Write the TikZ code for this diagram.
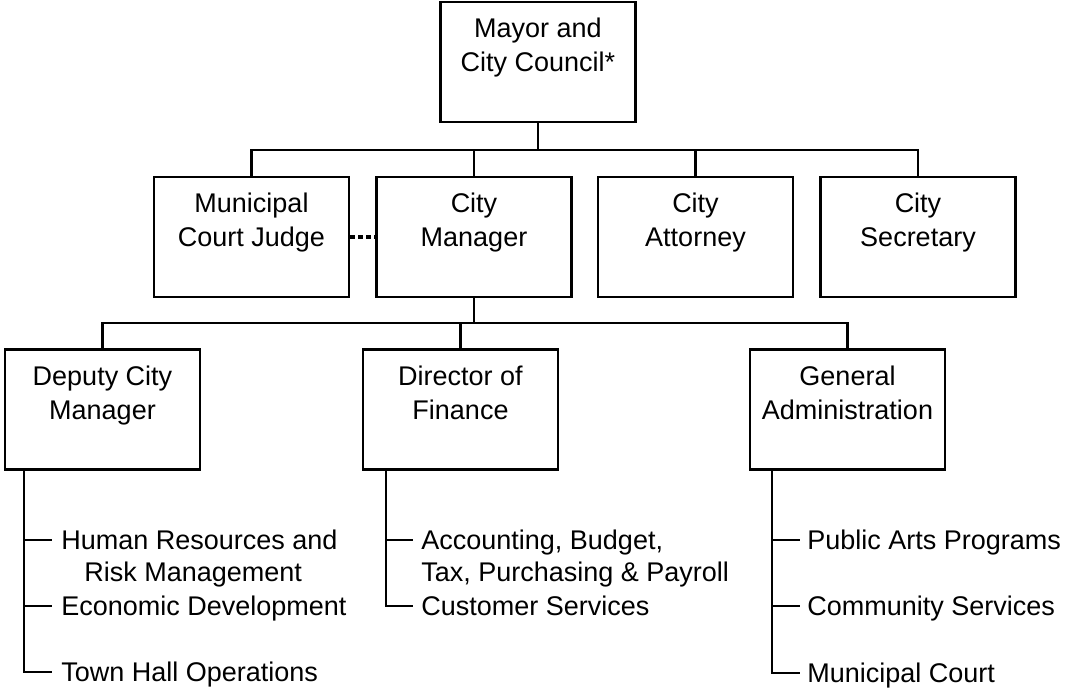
\documentclass[tikz,border=0pt]{standalone}
\usepackage{fontspec}
\setmainfont{Liberation Sans}
\usetikzlibrary{positioning,calc}

\begin{document}
\begin{tikzpicture}[
    x=0.5pt, y=-0.5pt,
    box/.style={draw, line width=1.1pt, minimum width=97.5pt, minimum height=60pt, inner sep=0pt},
    boxtext/.style={anchor=base, align=center, inner sep=0pt, font=\fontsize{13.5}{17}\selectfont},
    item/.style={anchor=base west, align=left, inner sep=0pt, font=\fontsize{13.5}{16}\selectfont},
    link/.style={draw, line width=1.1pt},
    dotlink/.style={draw, line width=2pt, dash pattern=on 2.6pt off 1.4pt}
]
\useasboundingbox (0,0) rectangle (1067,688);
% top
\node[box] (mayor) at (538,62) {};
\node[boxtext] (mayor-t) at ($(mayor.north)+(0,71)$) {Mayor and\\City Council*};
% second row
\node[box] (judge) at (251.5,237) {};
\node[box] (manager) at (474,237) {};
\node[box] (attorney) at (695.5,237) {};
\node[box] (secretary) at (918,237) {};
\node[boxtext] (judge-t) at ($(judge.north)+(0,71)$) {Municipal\\Court Judge};
\node[boxtext] (manager-t) at ($(manager.north)+(0,71)$) {City\\Manager};
\node[boxtext] (attorney-t) at ($(attorney.north)+(0,71)$) {City\\Attorney};
\node[boxtext] (secretary-t) at ($(secretary.north)+(0,71)$) {City\\Secretary};
% third row
\node[box] (deputy) at (102.5,409.5) {};
\node[box] (finance) at (460.5,409.5) {};
\node[box] (admin) at (847.5,409.5) {};
\node[boxtext] (deputy-t) at ($(deputy.north)+(0,71)$) {Deputy City\\Manager};
\node[boxtext] (finance-t) at ($(finance.north)+(0,71)$) {Director of\\Finance};
\node[boxtext] (admin-t) at ($(admin.north)+(0,71)$) {General\\Administration};
% connectors
\coordinate (bus1) at (538,150);
\coordinate (bus2) at (474,323);
\draw[link] (mayor.south) -- (bus1);
\draw[link] (judge.north) |- (bus1) -| (secretary.north);
\draw[link] (manager.north) -- (manager.north |- bus1);
\draw[link] (attorney.north) -- (attorney.north |- bus1);
\draw[dotlink] (judge.east) -- (manager.west);
\draw[link] (manager.south) -- (bus2);
\draw[link] (deputy.north) |- (bus2) -| (admin.north);
\draw[link] (finance.north) -- (finance.north |- bus2);
% lists
\coordinate (deputy-s) at ($(deputy.south west)+(20,0)$);
\coordinate (finance-s) at ($(finance.south west)+(24,0)$);
\coordinate (admin-s) at ($(admin.south west)+(23,0)$);
\coordinate (hr-c) at (52,540);
\coordinate (econ-c) at (52,606);
\coordinate (town-c) at (52,672);
\coordinate (acct-c) at (413,540);
\coordinate (cust-c) at (413,606);
\coordinate (arts-c) at (800,540);
\coordinate (comm-c) at (800,606);
\coordinate (court-c) at (800,673);
\node[item] (hr) at ($(hr-c)+(9,42)$) {Human Resources and\\\hspace*{11.5pt}Risk Management};
\node[item] (econ) at ($(econ-c)+(9,10)$) {Economic Development};
\node[item] (town) at ($(town-c)+(9,10)$) {Town Hall Operations};
\node[item] (acct) at ($(acct-c)+(8,42)$) {Accounting, Budget,\\Tax, Purchasing \& Payroll};
\node[item] (cust) at ($(cust-c)+(8,10)$) {Customer Services};
\node[item] (arts) at ($(arts-c)+(7,10)$) {Public Arts Programs};
\node[item] (comm) at ($(comm-c)+(7,10)$) {Community Services};
\node[item] (court) at ($(court-c)+(7,10)$) {Municipal Court};
\draw[link] (deputy-s) |- (hr-c);
\draw[link] (deputy-s) |- (econ-c);
\draw[link] (deputy-s) |- (town-c);
\draw[link] (finance-s) |- (acct-c);
\draw[link] (finance-s) |- (cust-c);
\draw[link] (admin-s) |- (arts-c);
\draw[link] (admin-s) |- (comm-c);
\draw[link] (admin-s) |- (court-c);
\end{tikzpicture}
\end{document}
